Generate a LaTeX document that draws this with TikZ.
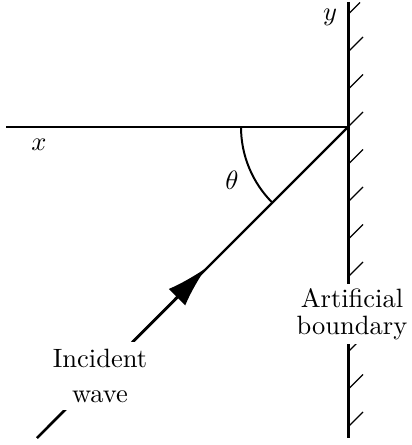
\documentclass[tikz,border=0pt]{standalone}
\usetikzlibrary{arrows.meta}
\begin{document}
\begin{tikzpicture}[x=0.3774pt,y=0.3774pt,
  thinline/.style={line width=0.57pt},
  waveline/.style={line width=0.9pt},
  wallline/.style={line width=1.13pt},
  hatchline/.style={line width=0.5pt},
  label/.style={fill=white,align=center,inner sep=3pt}]
\useasboundingbox (0,0) rectangle (411,445);
\coordinate (O) at (348,318);
\coordinate (L) at (6,318);
\coordinate (T) at (348,443);
\coordinate (B) at (348,7);
\coordinate (S) at (37,7);
\coordinate (tip) at (206,177);
% horizontal axis
\draw[thinline] (L) -- (O);
% wall
\draw[wallline] (T) -- (B);
% hatches
\draw[hatchline] (348,430.5) -- ++(12,12);
\foreach \k in {-2,...,8}{
  \draw[hatchline] (348,{318-\k*37.5}) -- ++(15,15);
}
% incident wave
\draw[waveline] (S) -- (O);
\draw[waveline,-{Latex[length=15.5pt,width=8.8pt]}] (S) -- (tip);
% angle arc
\draw[line width=0.75pt] (241,318) arc[start angle=180,end angle=225,radius=40.4pt];
\node (th) at (232,265) {$\theta$};
\node (xl) at (39,300) {$x$};
\node (yl) at (330,428) {$y$};
\node[label,inner sep=1.6pt,font=\fontsize{10}{10.3}\selectfont] (ab) at (352,131) {Artificial\\boundary};
\node[label,font=\fontsize{10}{12.9}\selectfont] (iw) at (100,69) {Incident\\wave};
\end{tikzpicture}
\end{document}
